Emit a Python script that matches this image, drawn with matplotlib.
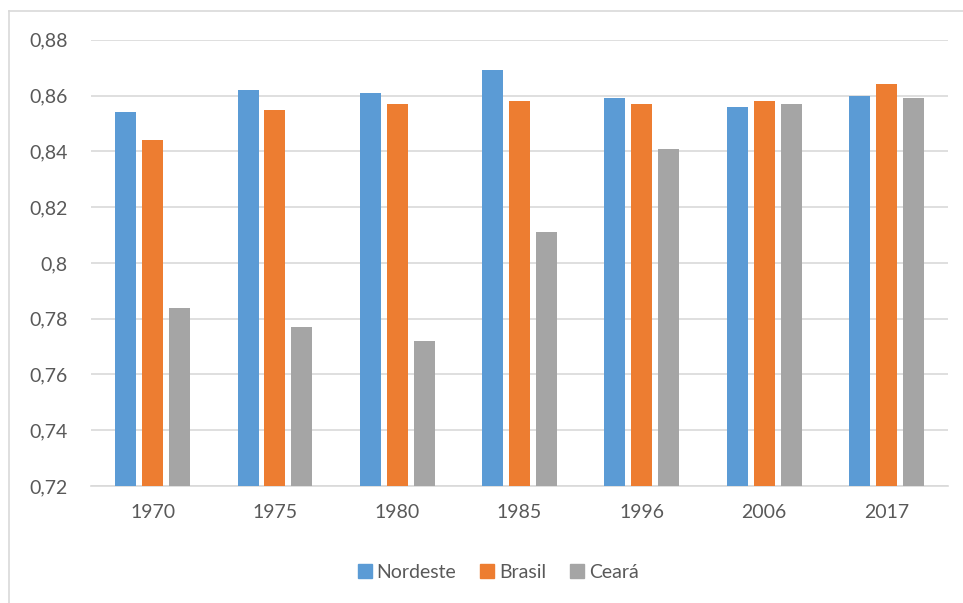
import numpy as np
import matplotlib.pyplot as plt
from matplotlib.lines import Line2D

# Dados do gráfico
anos = ['1970', '1975', '1980', '1985', '1996', '2006', '2017']
nordeste = [0.854, 0.862, 0.861, 0.869, 0.859, 0.856, 0.860]
brasil = [0.844, 0.855, 0.857, 0.858, 0.857, 0.858, 0.864]
ceara = [0.784, 0.777, 0.772, 0.811, 0.841, 0.857, 0.859]
series = ['Nordeste', 'Brasil', 'Ceará']
cores = ['#5B9BD5', '#ED7D31', '#A5A5A5']
yticks = [0.72, 0.74, 0.76, 0.78, 0.80, 0.82, 0.84, 0.86, 0.88]
ylabels = ['0,72', '0,74', '0,76', '0,78', '0,8', '0,82', '0,84', '0,86', '0,88']

plt.rcParams['font.family'] = ['Lato', 'DejaVu Sans']
texto = '#595959'

fig = plt.figure(figsize=(9.63, 6.03), dpi=100)
ax = fig.add_axes([0.095, 0.194, 0.889, 0.740])

x = np.arange(len(anos))
largura = 0.172
passo = 0.22
for i, (vals, nome, cor) in enumerate(zip([nordeste, brasil, ceara], series, cores)):
    ax.bar(x + (i - 1) * passo, vals, width=largura, color=cor, label=nome,
           zorder=3)

ax.set_xlim(-0.5, len(anos) - 0.5)
ax.set_ylim(0.72, 0.88)
ax.set_yticks(yticks)
ax.set_yticklabels(ylabels)
ax.set_xticks(x)
ax.set_xticklabels(anos)
ax.tick_params(axis='both', length=0, labelsize=14, colors=texto)
ax.tick_params(axis='x', pad=13)
ax.tick_params(axis='y', pad=17)
ax.grid(axis='y', color='#D9D9D9', linewidth=1.2, zorder=0)
for lado in ['top', 'right', 'left']:
    ax.spines[lado].set_visible(False)
ax.spines['bottom'].set_color('#D9D9D9')
ax.spines['bottom'].set_linewidth(1.2)

# Legenda
handles = [Line2D([0], [0], marker='s', linestyle='', markersize=10,
                  markerfacecolor=c, markeredgecolor=c) for c in cores]
fig.legend(handles, series, loc='center', bbox_to_anchor=(0.516, 0.051),
           ncol=3, frameon=False, fontsize=14, labelcolor=texto,
           handletextpad=0.1, columnspacing=1.1, handlelength=1.0)

# Borda do gráfico
fig.add_artist(Line2D([9 / 963, 1], [1 - 11 / 603, 1 - 11 / 603],
                      color='#D9D9D9', linewidth=1.2))
fig.add_artist(Line2D([9 / 963, 9 / 963], [0, 1 - 11 / 603],
                      color='#D9D9D9', linewidth=1.2))

plt.savefig('out.png', dpi=100)
plt.close()
